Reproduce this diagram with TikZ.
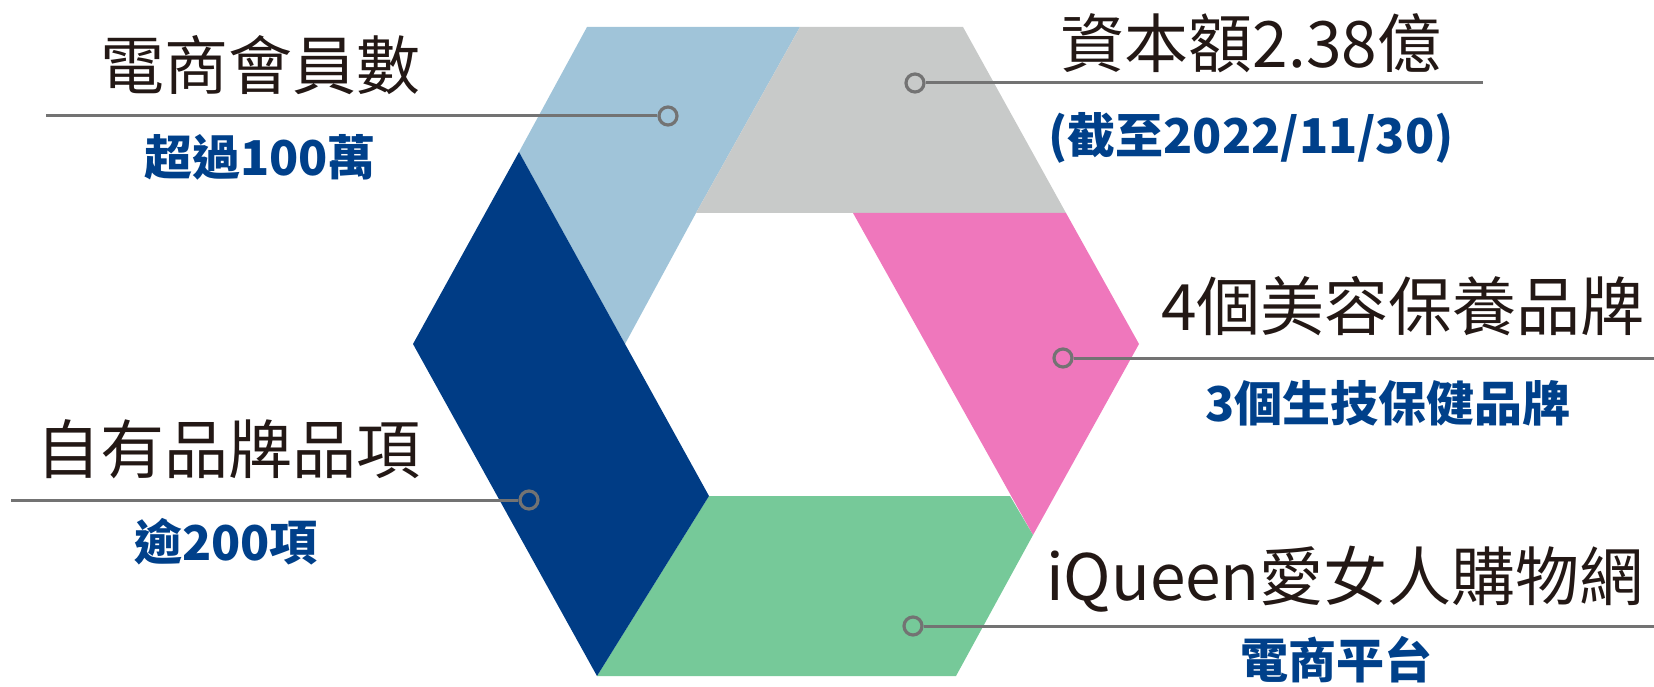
\documentclass[tikz,border=0pt]{standalone}
\usepackage{fontspec}
\newfontfamily\cjk{Noto Sans CJK TC}
\definecolor{lblue}{HTML}{A0C4D9}
\definecolor{lgray}{HTML}{C8CAC9}
\definecolor{hpink}{HTML}{EF77BC}
\definecolor{hgreen}{HTML}{76C999}
\definecolor{dblue}{HTML}{003C85}
\definecolor{txtblack}{HTML}{231815}
\definecolor{txtblue}{HTML}{00408A}
\definecolor{lineg}{HTML}{737373}
\begin{document}
\begin{tikzpicture}[x=1pt,y=-1pt,
  lbl/.style={font=\cjk\fontsize{64}{70}\selectfont, text=txtblack, anchor=base, inner sep=0pt},
  sub/.style={font=\cjk\bfseries\fontsize{48}{54}\selectfont, text=txtblue, anchor=base, inner sep=0pt},
  dot/.style={circle, draw=lineg, line width=3.2pt, minimum size=18pt, inner sep=0pt},
  lead/.style={draw=lineg, line width=3pt}]
\useasboundingbox (0,0) rectangle (1654,687);
% hexagon pieces
\fill[lblue] (587,27) -- (800,27) -- (696,213) -- (625,344) -- (519,152) -- cycle;
\fill[lgray] (800,27) -- (963,27) -- (1066,213) -- (696,213) -- cycle;
\fill[hpink] (853,213) -- (1066,213) -- (1139,344) -- (1033,535) -- cycle;
\fill[hgreen] (709,496) -- (1010,496) -- (1033,535) -- (956,676) -- (597,676) -- cycle;
\fill[dblue] (519,152) -- (709,496) -- (597,676) -- (413,344) -- cycle;
% markers
\node[dot] (c1) at (668,116) {};
\node[dot] (c2) at (915,83) {};
\node[dot] (c3) at (1063,358) {};
\node[dot] (c4) at (529,500) {};
\node[dot] (c5) at (913,626) {};
\coordinate (e1) at (46,116);
\coordinate (e2) at (1483,83);
\coordinate (e3) at (1654,358);
\coordinate (e4) at (11,500);
\coordinate (e5) at (1654,626);
\draw[lead] (c1.west) -- (e1);
\draw[lead] (c2.east) -- (e2);
\draw[lead] (c3.east) -- (e3);
\draw[lead] (c4.west) -- (e4);
\draw[lead] (c5.east) -- (e5);
% texts
\node[lbl] (t1) at (260,90) {電商會員數};
\node[sub] (s1) at (260,176) {超過100萬};
\node[lbl] (t2) at (1251,68) {資本額2.38億};
\node[sub] (s2) at (1251,154) {(截至2022/11/30)};
\node[lbl] (t3) at (1403,330) {4個美容保養品牌};
\node[sub] (s3) at (1388,421) {3個生技保健品牌};
\node[lbl] (t4) at (228,473) {自有品牌品項};
\node[sub] (s4) at (226,560) {逾200項};
\node[lbl] (t5) at (1345,600) {iQueen愛女人購物網};
\node[sub] (s5) at (1336,678) {電商平台};
\end{tikzpicture}
\end{document}
